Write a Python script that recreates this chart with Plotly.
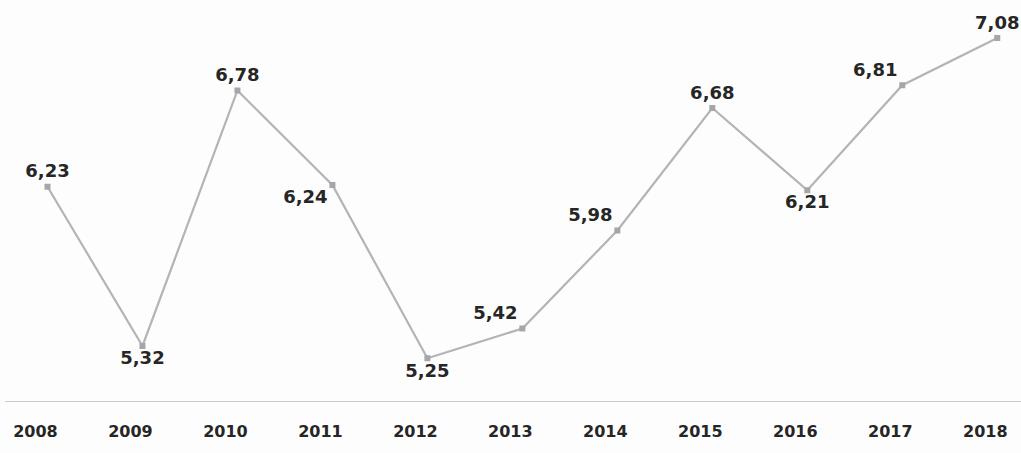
import plotly.graph_objects as go

years = [2008, 2009, 2010, 2011, 2012, 2013, 2014, 2015, 2016, 2017, 2018]
values = [6.23, 5.32, 6.78, 6.24, 5.25, 5.42, 5.98, 6.68, 6.21, 6.81, 7.08]
labels = ["6,23", "5,32", "6,78", "6,24", "5,25", "5,42", "5,98", "6,68", "6,21", "6,81", "7,08"]
positions = ["top center", "bottom center", "top center", "bottom left", "bottom center",
             "top left", "top left", "top center", "bottom center", "top left", "top center"]

fig = go.Figure()
fig.add_trace(go.Scatter(
    x=years, y=values, mode="lines+markers+text",
    text=labels, textposition=positions,
    textfont=dict(family="DejaVu Sans", size=18, color="#262626", weight="bold"),
    line=dict(color="#b4b4b8", width=2.2),
    marker=dict(symbol="square", size=6, color="#a6a6aa"),
    cliponaxis=False,
))

fig.update_layout(
    width=1021, height=453,
    margin=dict(l=0, r=0, t=0, b=51),
    paper_bgcolor="#fdfdfd", plot_bgcolor="#fdfdfd",
    showlegend=False,
    xaxis=dict(range=[2007.5, 2018.25], tickmode="array", tickvals=years,
               ticktext=[str(y) for y in years], showgrid=False, zeroline=False,
               showline=False, ticks="", ticklabelstandoff=18, ticklabelshift=-12,
               tickfont=dict(family="DejaVu Sans", size=16, color="#262626", weight="bold")),
    yaxis=dict(range=[5.0, 7.297], visible=False),
    shapes=[dict(type="line", xref="paper", yref="y", x0=0.005, x1=1, y0=5.0, y1=5.0,
                 line=dict(color="#9a9a9a", width=1.2))],
)

fig.write_html("out.html")
